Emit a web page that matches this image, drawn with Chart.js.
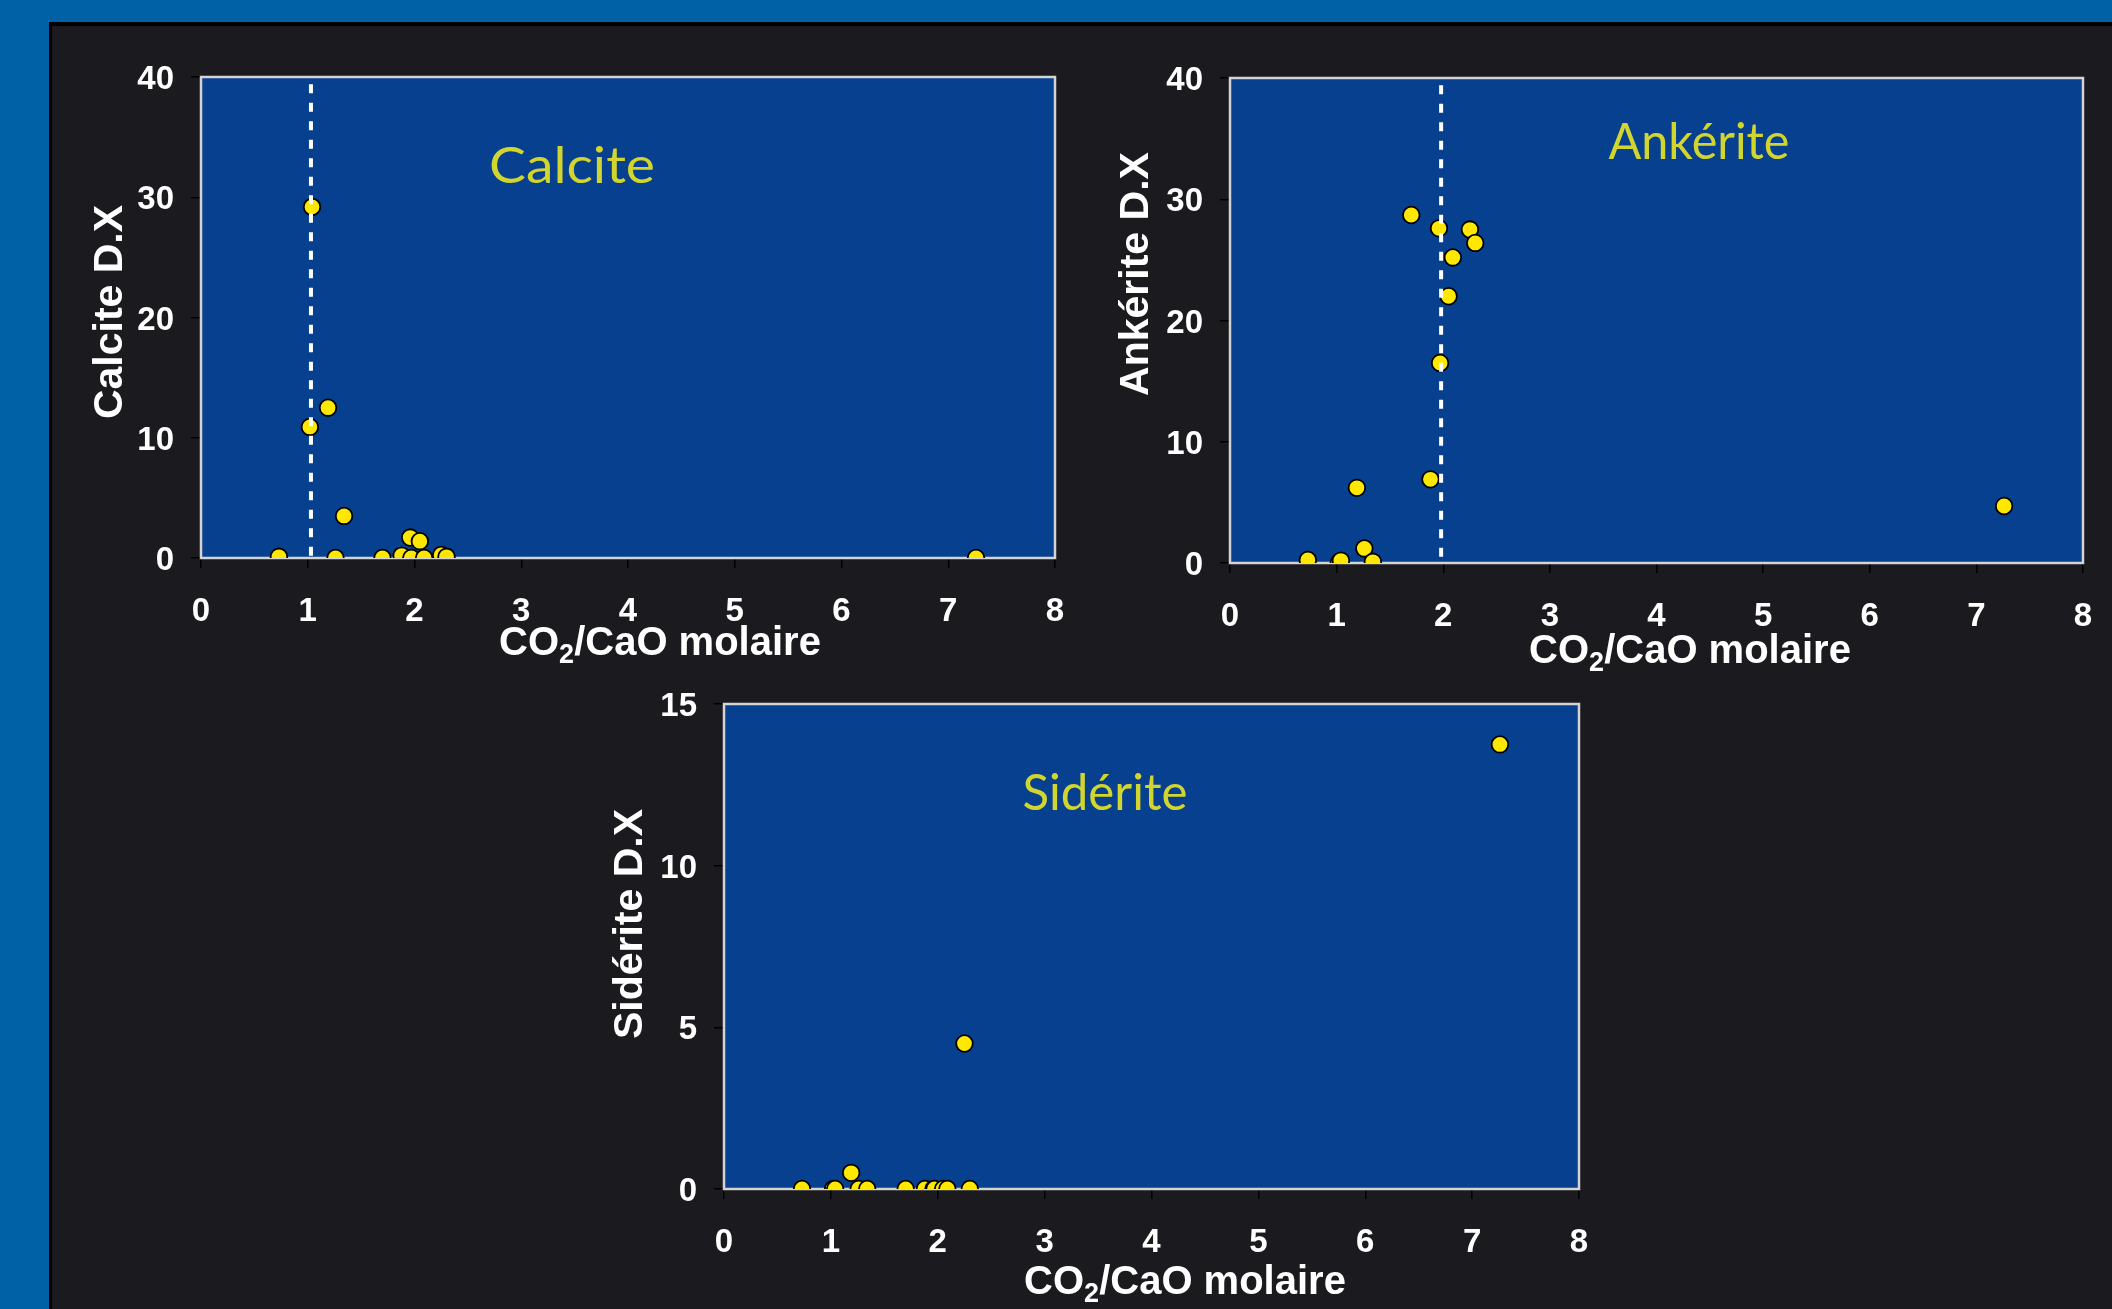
<!DOCTYPE html>
<html>
<head>
<meta charset="utf-8">
<script src="https://cdn.jsdelivr.net/npm/chart.js@4.4.0/dist/chart.umd.min.js"></script>
<style>
  html, body { margin: 0; padding: 0; width: 2112px; height: 1309px; overflow: hidden; background: #0061a6; }
  #panel { position: absolute; left: 49px; top: 22px; right: 0; bottom: 0; background: #1b1a1e;
           border-left: 3px solid #000; border-top: 4px solid #000; }
  canvas { position: absolute; }
</style>
</head>
<body>
<div id="panel"></div>
<canvas id="calcite"></canvas>
<canvas id="ankerite"></canvas>
<canvas id="siderite"></canvas>
<script>
// CO2/CaO molar ratio of each sample (same samples in the three plots)
const co2CaO      = [0.73, 1.02, 1.04, 1.19, 1.26, 1.34, 1.70, 1.88, 1.96, 1.97, 2.05, 2.09, 2.25, 2.30, 7.26];
// XRD (D.X) carbonate contents for the same samples
const calciteDX   = [0.1, 10.9, 29.2, 12.5, 0, 3.5, 0, 0.2, 1.7, 0, 1.4, 0, 0.25, 0.1, 0];
const ankeriteDX  = [0.25, 0, 0.2, 6.2, 1.2, 0.1, 28.7, 6.9, 27.6, 16.5, 22.0, 25.2, 27.5, 26.4, 4.7];
const sideriteDX  = [0, 0, 0, 0.5, 0, 0, 0, 0, 0, 0, 0, 0, 4.5, 0, 13.75];

// theoretical CO2/CaO ratios (dashed reference lines) and their extent
const calciteRef  = 1.03;
const ankeriteRef = 1.98;
const refSpan     = [0, 39.4];

// tick labels
const xTicks      = [0, 1, 2, 3, 4, 5, 6, 7, 8];
const yTicks40    = [0, 10, 20, 30, 40];
const yTicks15    = [0, 5, 10, 15];

// text
const xTitleParts = ['CO', '2', '/CaO molaire'];

// page geometry of each panel: plot box, y title (baseline x, centre y),
// x title (centre x, baseline y), mineral name (centre x, centre y, width)
const layouts = {
  calcite:  { plot: [201, 77, 1055, 558],   yTitle: [122, 312],  xTitle: [660, 655],   name: [572, 167, 166] },
  ankerite: { plot: [1230, 78, 2083, 563],  yTitle: [1148, 274], xTitle: [1690, 663],  name: [1699, 143, 181] },
  siderite: { plot: [724, 704, 1579, 1189], yTitle: [642, 924],  xTitle: [1185, 1294], name: [1105, 794, 165] }
};

const Y_AXIS_W = 150, X_AXIS_H = 120, PAD_TOP = 40, PAD_RIGHT = 45;

// blue plot area with its light frame
const plotFrame = {
  id: 'plotFrame',
  beforeDatasetsDraw(chart) {
    const { ctx, chartArea: a } = chart;
    ctx.save();
    ctx.fillStyle = '#06408f';
    ctx.fillRect(a.left, a.top, a.width, a.height);
    ctx.strokeStyle = '#d4d4d4';
    ctx.lineWidth = 2.5;
    ctx.strokeRect(a.left, a.top, a.width, a.height);
    ctx.restore();
  }
};

// axis titles (with subscript) and the mineral name inside the plot
const captions = {
  id: 'captions',
  afterDraw(chart, args, o) {
    const ctx = chart.ctx;
    const [ox, oy] = o.origin;
    ctx.save();
    ctx.fillStyle = '#ffffff';

    // y title, rotated
    ctx.save();
    ctx.font = 'bold 41px "Liberation Sans", Arial, sans-serif';
    ctx.translate(o.yTitle[0] - ox, o.yTitle[1] - oy);
    ctx.rotate(-Math.PI / 2);
    ctx.textAlign = 'center';
    ctx.textBaseline = 'alphabetic';
    ctx.fillText(o.yText, 0, 0);
    ctx.restore();

    // x title with subscript 2
    const big = 'bold 40px "Liberation Sans", Arial, sans-serif';
    const small = 'bold 27px "Liberation Sans", Arial, sans-serif';
    ctx.textBaseline = 'alphabetic';
    ctx.textAlign = 'left';
    ctx.font = big;  const w1 = ctx.measureText(o.xParts[0]).width;
    ctx.font = small; const w2 = ctx.measureText(o.xParts[1]).width;
    ctx.font = big;  const w3 = ctx.measureText(o.xParts[2]).width;
    let x = o.xTitle[0] - ox - (w1 + w2 + w3) / 2;
    const by = o.xTitle[1] - oy;
    ctx.font = big;   ctx.fillText(o.xParts[0], x, by); x += w1;
    ctx.font = small; ctx.fillText(o.xParts[1], x, by + 8); x += w2;
    ctx.font = big;   ctx.fillText(o.xParts[2], x, by);

    // mineral name
    ctx.font = '400 51px Lato, "Open Sans", sans-serif';
    ctx.fillStyle = '#d2d52e';
    const nw = ctx.measureText(o.name).width;
    ctx.translate(o.nameAt[0] - ox, o.nameAt[1] - oy);
    ctx.scale(o.nameAt[2] / nw, 1);
    ctx.textAlign = 'center';
    ctx.textBaseline = 'middle';
    ctx.fillText(o.name, 0, 0);
    ctx.restore();
  }
};

function points(ys) {
  return co2CaO.map((x, i) => ({ x: x, y: ys[i] }));
}

function makeChart(id, ys, yTicks, yText, name, refX) {
  const L = layouts[id];
  const [pl, pt, pr, pb] = L.plot;
  const cv = document.getElementById(id);
  const left = pl - Y_AXIS_W, top = pt - PAD_TOP;
  cv.width = (pr - pl) + Y_AXIS_W + PAD_RIGHT;
  cv.height = (pb - pt) + PAD_TOP + X_AXIS_H;
  cv.style.left = left + 'px';
  cv.style.top = top + 'px';

  const datasets = [];
  if (refX !== null) {
    datasets.push({
      type: 'line',
      data: [{ x: refX, y: refSpan[1] }, { x: refX, y: refSpan[0] }],
      showLine: true,
      borderColor: '#ffffff',
      borderWidth: 4,
      borderDash: [9, 9.5],
      pointRadius: 0,
      fill: false
    });
  }
  datasets.push({
    data: points(ys),
    backgroundColor: '#ffe800',
    borderColor: '#000000',
    borderWidth: 1.8,
    pointRadius: 8.3,
    pointHoverRadius: 8.3
  });

  const tickFont = { family: '"Liberation Sans", Arial, sans-serif', size: 33, weight: 'bold' };

  return new Chart(cv, {
    type: 'scatter',
    data: { datasets },
    options: {
      responsive: false,
      animation: false,
      devicePixelRatio: 1,
      layout: { padding: { left: 0, top: PAD_TOP, right: PAD_RIGHT, bottom: 0 } },
      plugins: {
        legend: { display: false },
        tooltip: { enabled: false },
        captions: {
          origin: [left, top],
          yTitle: L.yTitle, xTitle: L.xTitle, nameAt: L.name,
          yText: yText, xParts: xTitleParts, name: name
        }
      },
      scales: {
        x: {
          type: 'linear',
          position: 'bottom',
          min: xTicks[0], max: xTicks[xTicks.length - 1],
          afterBuildTicks: s => { s.ticks = xTicks.map(v => ({ value: v })); },
          afterFit: s => { s.height = X_AXIS_H; },
          grid: { drawOnChartArea: false, color: '#000000', lineWidth: 1.5, tickLength: 10 },
          border: { display: false },
          ticks: { color: '#ffffff', font: tickFont, padding: 24, maxRotation: 0 }
        },
        y: {
          type: 'linear',
          position: 'left',
          min: yTicks[0], max: yTicks[yTicks.length - 1],
          afterBuildTicks: s => { s.ticks = yTicks.map(v => ({ value: v })); },
          afterFit: s => { s.width = Y_AXIS_W; },
          grid: { drawOnChartArea: false, color: '#000000', lineWidth: 1.5, tickLength: 10 },
          border: { display: false },
          ticks: { color: '#ffffff', font: tickFont, padding: 17, labelOffset: 3 }
        }
      }
    },
    plugins: [plotFrame, captions]
  });
}

makeChart('calcite',  calciteDX,  yTicks40, 'Calcite D.X',  'Calcite',  calciteRef);
makeChart('ankerite', ankeriteDX, yTicks40, 'Ankérite D.X', 'Ankérite', ankeriteRef);
makeChart('siderite', sideriteDX, yTicks15, 'Sidérite D.X', 'Sidérite', null);
</script>
</body>
</html>
